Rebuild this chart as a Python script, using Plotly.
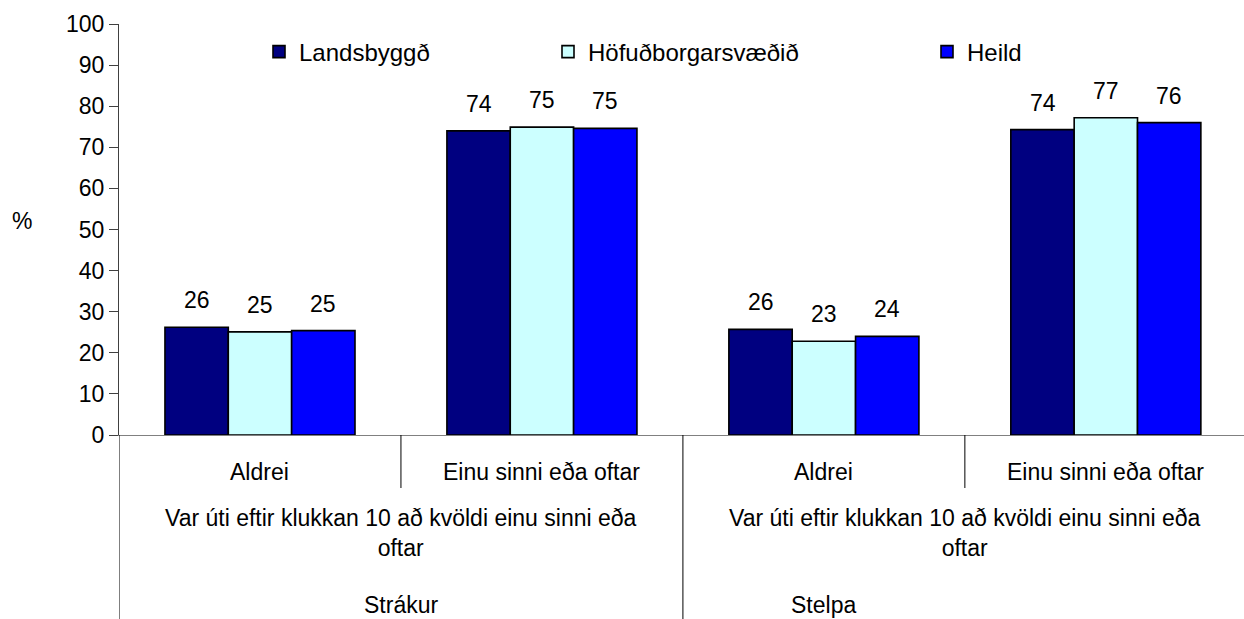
import plotly.graph_objects as go

# ---- data ----
series_names = ["Landsbyggð", "Höfuðborgarsvæðið", "Heild"]
series_colors = ["#000080", "#CCFFFF", "#0000FF"]
level1_labels = ["Aldrei", "Einu sinni eða oftar", "Aldrei", "Einu sinni eða oftar"]
level2_labels = ["Var úti eftir klukkan 10 að kvöldi einu sinni eða<br>oftar",
                 "Var úti eftir klukkan 10 að kvöldi einu sinni eða<br>oftar"]
level3_labels = ["Strákur", "Stelpa"]
landsbyggd = [26.2, 74.0, 25.7, 74.3]
hofudborg = [25.1, 74.9, 22.8, 77.2]
heild = [25.4, 74.6, 24.0, 76.0]
series_values = [landsbyggd, hofudborg, heild]
y_ticks = [0, 10, 20, 30, 40, 50, 60, 70, 80, 90, 100]

FONT = "Liberation Sans, Arial, sans-serif"
FS = 23
W, H = 1244, 619
ML, MT, MB = 119, 24, 184
BARGAP = 0.326

x_idx = list(range(len(level1_labels)))

fig = go.Figure()
legends = ["legend", "legend2", "legend3"]
for name, color, vals, lg in zip(series_names, series_colors, series_values, legends):
    fig.add_trace(go.Bar(
        x=x_idx, y=vals, name=name, legend=lg, showlegend=True,
        marker=dict(color=color, line=dict(color="black", width=1.6)),
        hoverinfo="skip",
    ))

# value labels above bars
n = len(series_names)
bw = (1 - BARGAP) / n
annotations = []
for j, vals in enumerate(series_values):
    for i, v in enumerate(vals):
        annotations.append(dict(
            x=i + (j - (n - 1) / 2) * bw, y=v, xref="x", yref="y",
            text=f"{v:.0f}", showarrow=False, yanchor="bottom", yshift=12,
            font=dict(family=FONT, size=FS, color="black")))

plot_h = H - MT - MB
def py(pix):
    return (H - MB - pix) / plot_h

# category labels (3 levels)
for i, lab in enumerate(level1_labels):
    annotations.append(dict(x=i, y=py(472), xref="x", yref="paper", text=lab,
                            showarrow=False, yanchor="middle",
                            font=dict(family=FONT, size=FS, color="black")))
for k, lab in enumerate(level2_labels):
    annotations.append(dict(x=2 * k + 0.5, y=py(533), xref="x", yref="paper", text=lab,
                            showarrow=False, yanchor="middle", align="center",
                            font=dict(family=FONT, size=FS, color="black")))
for k, lab in enumerate(level3_labels):
    annotations.append(dict(x=0.5 if k == 0 else 2.0, y=py(605), xref="x", yref="paper",
                            text=lab, showarrow=False, yanchor="middle",
                            font=dict(family=FONT, size=FS, color="black")))

# y-axis title "%"
annotations.append(dict(x=(22 - ML) / (W - ML), y=py(221), xref="paper", yref="paper",
                        text="%", showarrow=False, xanchor="center", yanchor="middle",
                        font=dict(family=FONT, size=FS, color="black")))

shapes = []
for b in [0.5, 2.5]:
    shapes.append(dict(type="line", xref="x", yref="paper", x0=b, x1=b,
                       y0=0, y1=py(488), line=dict(color="black", width=1)))
for b in [-0.5, 1.5]:
    shapes.append(dict(type="line", xref="x", yref="paper", x0=b, x1=b,
                       y0=0, y1=py(619), line=dict(color="black", width=1)))

leg_common = dict(xanchor="left", yanchor="middle", bgcolor="rgba(0,0,0,0)",
                  font=dict(family=FONT, size=24, color="black"), visible=True)

fig.update_layout(
    width=W, height=H, showlegend=True,
    margin=dict(l=ML, r=0, t=MT, b=MB, pad=0),
    paper_bgcolor="white", plot_bgcolor="white",
    barmode="group", bargap=BARGAP, bargroupgap=0,
    font=dict(family=FONT, size=FS, color="black"),
    xaxis=dict(range=[-0.5, 3.49], showticklabels=False, ticks="",
               showgrid=False, zeroline=False, showline=True,
               linecolor="#808080", linewidth=1),
    yaxis=dict(range=[0, 100], tickvals=y_ticks, ticks="outside", ticklen=9,
               tickcolor="#404040", showgrid=False, zeroline=False,
               showline=True, linecolor="#404040", linewidth=1,
               tickfont=dict(family=FONT, size=FS, color="black")),
    annotations=annotations,
    shapes=shapes,
    legend=dict(x=(259 - ML) / (W - ML), y=py(52), **leg_common),
    legend2=dict(x=(548 - ML) / (W - ML), y=py(52), **leg_common),
    legend3=dict(x=(927 - ML) / (W - ML), y=py(52), **leg_common),
)

fig.write_html("out.html", config={"displayModeBar": False})
with open("out.html", encoding="utf-8") as f:
    html = f.read()
html = html.replace("<head>", "<head><style>html,body{margin:0;padding:0;}</style>", 1)
with open("out.html", "w", encoding="utf-8") as f:
    f.write(html)
